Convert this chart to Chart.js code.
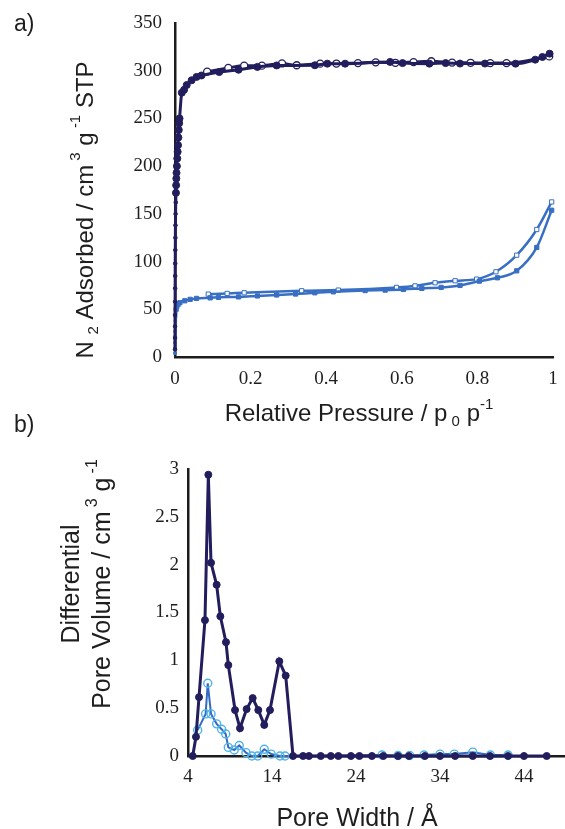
<!DOCTYPE html>
<html><head><meta charset="utf-8">
<script src="https://cdn.jsdelivr.net/npm/chart.js@4.4.1/dist/chart.umd.min.js"></script>
<style>
html,body{margin:0;padding:0;background:#fff;width:565px;height:829px;overflow:hidden}
#wa{position:absolute;left:0;top:0;width:565px;height:440px}
#wb{position:absolute;left:0;top:410px;width:565px;height:419px}
canvas{display:block}
</style></head><body>
<div id="wa"><canvas id="ca" width="565" height="440"></canvas></div>
<div id="wb"><canvas id="cb" width="565" height="419"></canvas></div>
<script>
// ---------- Panel a: N2 isotherms ----------
const isoXTicks = [0, 0.2, 0.4, 0.6, 0.8, 1];
const isoYTicks = [0, 50, 100, 150, 200, 250, 300, 350];

// Sample 1 (navy) adsorption, filled circles
const navyAdsP = [0.00005, 0.0001, 0.00015, 0.0002, 0.0003, 0.0004, 0.0005, 0.0006, 0.0008, 0.001, 0.0012, 0.0015, 0.002, 0.0025, 0.003, 0.0035, 0.004, 0.005, 0.006, 0.007, 0.008, 0.009, 0.010, 0.011, 0.012, 0.018, 0.024, 0.031, 0.044, 0.057, 0.070, 0.117, 0.168, 0.218, 0.269, 0.370, 0.403, 0.450, 0.569, 0.602, 0.673, 0.716, 0.754, 0.820, 0.901, 0.953, 0.972, 0.991];
const navyAdsV = [8, 20, 32, 44, 58, 72, 85, 98, 112, 125, 138, 150, 162, 172, 180, 187, 193, 200, 208, 215, 222, 230, 238, 245, 250, 277, 280, 285, 290, 293.5, 295, 298.6, 301, 304, 305.5, 305.7, 307.4, 307.4, 309.2, 308, 307.4, 308, 307.5, 307.5, 307.4, 311.6, 314.4, 317.9];
// Sample 1 (navy) desorption, open circles
const navyDesP = [0.085, 0.141, 0.183, 0.230, 0.283, 0.322, 0.384, 0.427, 0.484, 0.531, 0.583, 0.631, 0.678, 0.733, 0.782, 0.834, 0.877, 0.990];
const navyDesV = [299, 302.9, 305.3, 305.3, 307.6, 305.7, 307.4, 307.5, 308, 308.8, 308.3, 309, 309.9, 308.5, 308.3, 308, 308, 315];
// Sample 2 (blue) adsorption, filled squares
const blueAdsP = [0.00005, 0.0001, 0.0002, 0.0003, 0.0005, 0.0007, 0.001, 0.0015, 0.002, 0.003, 0.0045, 0.008, 0.013, 0.026, 0.040, 0.057, 0.093, 0.115, 0.168, 0.218, 0.269, 0.319, 0.370, 0.419, 0.503, 0.556, 0.604, 0.653, 0.704, 0.754, 0.805, 0.853, 0.904, 0.957, 0.9965];
const blueAdsV = [4, 9, 15, 21, 27, 33, 38, 42, 46, 50, 52.7, 55, 56.9, 58.9, 60.4, 61.4, 62, 62.5, 63, 64, 65, 66, 67.3, 68.3, 69.6, 70.1, 70.8, 71.9, 72.9, 75, 79.5, 83, 90.3, 114.8, 153.8];
// Sample 2 (blue) desorption, open squares
const blueDesP = [0.088, 0.138, 0.183, 0.335, 0.432, 0.586, 0.635, 0.688, 0.741, 0.798, 0.849, 0.904, 0.957, 0.9965];
const blueDesV = [65.9, 66.6, 67.3, 69.4, 70.1, 72.9, 74.5, 77.8, 79.9, 81.6, 89.3, 106.7, 133.6, 162.5];

// ---------- Panel b: pore size distribution ----------
const poreXTicks = [4, 14, 24, 34, 44];
const poreYTicks = [0, 0.5, 1, 1.5, 2, 2.5, 3];
const navyPoreW = [4.56, 4.95, 5.31, 6.02, 6.42, 6.74, 7.41, 7.85, 8.52, 8.80, 9.60, 10.19, 10.98, 11.70, 12.37, 13.08, 13.76, 14.87, 15.63, 16.50, 17.70, 18.40, 19.80, 21.00, 21.90, 23.40, 24.40, 25.90, 27.25, 29.00, 30.30, 32.20, 34.00, 35.80, 37.90, 39.95, 42.10, 44.00, 46.70];
const navyPoreV = [0, 0.2, 0.615, 1.42, 2.94, 2.02, 1.79, 1.46, 1.19, 0.95, 0.48, 0.29, 0.49, 0.605, 0.48, 0.325, 0.48, 0.99, 0.84, 0, 0, 0, 0, 0, 0, 0, 0, 0, 0, 0, 0, 0, 0, 0, 0, 0, 0, 0, 0];
const bluePoreW = [5.15, 6.10, 6.35, 6.74, 7.41, 8.00, 8.49, 8.80, 9.50, 10.10, 10.90, 11.60, 12.30, 13.08, 13.90, 14.95, 15.55, 27.10, 29.00, 30.40, 32.10, 34.00, 35.70, 37.90, 40.00, 42.10];
const bluePoreV = [0.27, 0.44, 0.76, 0.44, 0.336, 0.28, 0.23, 0.09, 0.063, 0.11, 0.035, 0, 0, 0.07, 0.02, 0, 0, 0.01, 0.005, 0.005, 0.01, 0.02, 0.02, 0.04, 0.01, 0.01];

const xy = (xs, ys) => xs.map((x, i) => ({x: x, y: ys[i]}));

const NAVY = '#221d5c';
const BLUE = '#386fc3';
const LBLUE = '#4eb3e8';
const PBLUE = '#3469c2';
const AXIS = '#1c1c1c';
const TXT = '#1e1e1e';
const SANS = '"Liberation Sans", Arial, sans-serif';
const SERIF = '"Liberation Serif", "Times New Roman", serif';

const richText = {
  id: 'richText',
  afterDraw(chart, args, opts) {
    const ctx = chart.ctx;
    (opts.items || []).forEach(it => {
      ctx.save();
      ctx.translate(it.x, it.y);
      if (it.rotate) ctx.rotate(it.rotate * Math.PI / 180);
      ctx.fillStyle = it.color || TXT;
      ctx.textBaseline = 'alphabetic';
      ctx.textAlign = 'left';
      let total = 0;
      const widths = it.segs.map(s => { ctx.font = s.size + 'px ' + SANS; const w = ctx.measureText(s.t).width; total += w; return w; });
      let cx = it.align === 'left' ? 0 : -total / 2;
      it.segs.forEach((s, i) => { ctx.font = s.size + 'px ' + SANS; ctx.fillText(s.t, cx, s.dy || 0); cx += widths[i]; });
      ctx.restore();
    });
  }
};

function axisOpts(min, max, tickVals, pad, fitKey, fitVal) {
  return {
    type: 'linear', min: min, max: max,
    afterBuildTicks: s => { s.ticks = tickVals.map(v => ({value: v})); },
    afterFit: s => {
      s[fitKey] = fitVal;
      if (fitKey === 'height') { s.paddingLeft = 0; s.paddingRight = 0; }
      else { s.paddingTop = 0; s.paddingBottom = 0; }
    },
    grid: {display: false, drawTicks: false},
    border: {display: true, color: AXIS, width: 2.5},
    ticks: {padding: pad, color: TXT, font: {family: SERIF, size: 19}, callback: v => String(v)}
  };
}

new Chart(document.getElementById('ca'), {
  type: 'scatter',
  data: {datasets: [
    {label: 'Sample 1 adsorption', data: xy(navyAdsP, navyAdsV), showLine: true, borderColor: NAVY, backgroundColor: NAVY,
     borderWidth: 3, pointRadius: c => (c.raw && c.raw.y < 170 ? 1.8 : 3.5), pointBorderWidth: 1, cubicInterpolationMode: 'monotone', clip: false},
    {label: 'Sample 1 desorption', data: xy(navyDesP, navyDesV), showLine: true, borderColor: NAVY, pointBackgroundColor: '#ffffff', pointBorderColor: NAVY,
     borderWidth: 3, pointRadius: 3.5, pointBorderWidth: 1.3, cubicInterpolationMode: 'monotone', clip: false},
    {label: 'Sample 2 adsorption', data: xy(blueAdsP, blueAdsV), showLine: true, borderColor: BLUE, backgroundColor: BLUE, pointStyle: 'rect',
     borderWidth: 2.5, pointRadius: c => (c.raw && c.raw.y < 50 ? 1.8 : 3), pointBorderWidth: 1, cubicInterpolationMode: 'monotone', clip: false},
    {label: 'Sample 2 desorption', data: xy(blueDesP, blueDesV), showLine: true, borderColor: BLUE, pointBackgroundColor: '#ffffff', pointBorderColor: BLUE, pointStyle: 'rect',
     borderWidth: 2.5, pointRadius: 3, pointBorderWidth: 1, cubicInterpolationMode: 'monotone', clip: false}
  ]},
  options: {
    responsive: false, animation: false, devicePixelRatio: 1, events: [],
    layout: {autoPadding: false, padding: {left: 0, right: 12, top: 23, bottom: 0}},
    plugins: {
      legend: {display: false}, tooltip: {enabled: false},
      richText: {items: [
        {x: 14, y: 31, align: 'left', segs: [{t: 'a)', size: 23}]},
        {x: 93, y: 210, rotate: -90, segs: [
          {t: 'N', size: 24}, {t: ' ', size: 24}, {t: '2', size: 15, dy: 5}, {t: ' Adsorbed / cm', size: 24}, {t: ' ', size: 15},
          {t: '3', size: 15, dy: -13}, {t: ' g', size: 24}, {t: ' ', size: 15}, {t: '-1', size: 15, dy: -13}, {t: ' STP', size: 24}]},
        {x: 359, y: 421, segs: [
          {t: 'Relative Pressure / p', size: 24}, {t: ' ', size: 15}, {t: '0', size: 15, dy: 5}, {t: ' p', size: 24}, {t: '-1', size: 15, dy: -12}]}
      ]}
    },
    scales: {
      x: axisOpts(0, 1, isoXTicks, 11, 'height', 83),
      y: axisOpts(0, 350, isoYTicks, 13, 'width', 175)
    }
  },
  plugins: [richText]
});

new Chart(document.getElementById('cb'), {
  type: 'scatter',
  data: {datasets: [
    {label: 'Sample 1 PSD', data: xy(navyPoreW, navyPoreV), showLine: true, borderColor: NAVY, backgroundColor: NAVY,
     borderWidth: 3, pointRadius: 3.5, pointBorderWidth: 1, tension: 0, clip: false},
    {label: 'Sample 2 PSD', data: xy(bluePoreW, bluePoreV), showLine: true, borderColor: PBLUE, pointBackgroundColor: 'rgba(255,255,255,0)', pointBorderColor: LBLUE,
     borderWidth: 2, pointRadius: 4, pointBorderWidth: 1.4, tension: 0, clip: false}
  ]},
  options: {
    responsive: false, animation: false, devicePixelRatio: 1, events: [],
    layout: {autoPadding: false, padding: {left: 0, right: 0, top: 59, bottom: 0}},
    plugins: {
      legend: {display: false}, tooltip: {enabled: false},
      richText: {items: [
        {x: 14, y: 22, align: 'left', segs: [{t: 'b)', size: 23}]},
        {x: 79, y: 174, rotate: -90, segs: [{t: 'Differential', size: 25}]},
        {x: 110, y: 174, rotate: -90, segs: [
          {t: 'Pore Volume / cm', size: 25}, {t: ' ', size: 15}, {t: '3', size: 16, dy: -13}, {t: ' g', size: 25}, {t: ' ', size: 15}, {t: '-1', size: 16, dy: -13}]},
        {x: 357, y: 416, segs: [{t: 'Pore Width / Å', size: 25}]}
      ]}
    },
    scales: {
      x: axisOpts(4, 48.88, poreXTicks, 10, 'height', 73),
      y: axisOpts(0, 3, poreYTicks, 9, 'width', 188)
    }
  },
  plugins: [richText]
});
</script>
</body></html>
